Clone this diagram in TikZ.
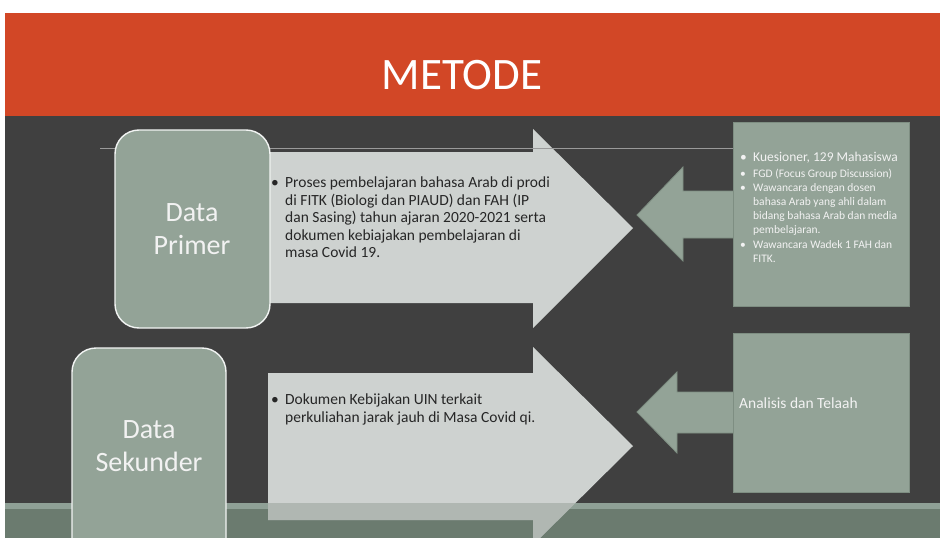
\documentclass[tikz,border=0pt]{standalone}
\usepackage{fontspec}
\setmainfont{Carlito}
\definecolor{slidered}{HTML}{D24726}
\definecolor{slidebg}{HTML}{404040}
\definecolor{sage}{HTML}{93A397}
\definecolor{sageedge}{HTML}{7E8E82}
\definecolor{arrowgray}{HTML}{CED2D0}
\definecolor{bandgreen}{HTML}{6B7B6F}
\definecolor{bandlight}{HTML}{8FA096}
\definecolor{txtdark}{HTML}{262626}
\definecolor{txtlight}{HTML}{F2F2F2}
\definecolor{rulegray}{HTML}{9A9A9A}
\begin{document}
\begin{tikzpicture}[x=1pt,y=-1pt,
  databox/.style={fill=sage,draw=white!88!sage,line width=1.4pt,rounded corners=24pt},
  sidebox/.style={fill=sage,draw=sageedge,line width=0.8pt},
  bigarrow/.style={fill=arrowgray,draw=none},
  backarrow/.style={fill=sage,draw=sageedge,line width=0.8pt},
  datatext/.style={text=txtlight,align=center,font=\fontsize{28}{33}\selectfont,inner sep=0pt},
  arrowtext/.style={text=txtdark,align=left,font=\fontsize{15.5}{17.5}\selectfont,inner sep=0pt},
  sidetext/.style={text=txtlight,align=left,inner sep=0pt}]
\useasboundingbox (0,0) rectangle (940,538);
\fill[white] (0,0) rectangle (940,538);
\clip (0,0) rectangle (940,538);
% slide background
\fill[slidebg] (5,13) rectangle (940,538);
\fill[slidered] (5,13) rectangle (940,116);
\fill[bandlight] (5,503) rectangle (940,509);
\fill[bandgreen] (5,509) rectangle (940,538);
\node[text=white,font=\fontsize{45}{54}\selectfont,inner sep=0pt] (title) at (462,75) {METODE};
% back arrows (right boxes pointing left)
\draw[backarrow] (740,191) -- (683,191) -- (683,167) -- (637,215) -- (683,261) -- (683,238) -- (740,238);
\draw[backarrow] (740,392) -- (677,392) -- (677,372) -- (637,412) -- (677,453) -- (677,433) -- (740,433);
% big arrows
\fill[bigarrow] (260,152) -- (533,152) -- (533,129) -- (633,228) -- (533,328) -- (533,303) -- (260,303) -- cycle;
\fill[bigarrow] (268,373) -- (533,373) -- (533,347) -- (633,446) -- (533,545) -- (533,520) -- (268,520) -- cycle;
\begin{scope}
  \clip (268,373) -- (533,373) -- (533,347) -- (633,446) -- (533,545) -- (533,520) -- (268,520) -- cycle;
  \fill[bandgreen,fill opacity=0.3] (5,503) rectangle (940,538);
\end{scope}
% rule line
\draw[rulegray,line width=0.8pt] (100,148) -- (733,148);
% side boxes
\draw[sidebox] (733,122) rectangle (909,306);
\draw[sidebox] (733,333) rectangle (909,492);
% data boxes
\draw[databox] (115,130) rectangle (270,328);
\draw[databox] (72,348) rectangle (226,580);
\node[datatext] (primer) at (192,229) {Data\\Primer};
\node[datatext] (sekunder) at (149,446) {Data\\Sekunder};
% arrow texts
\node[arrowtext,anchor=north west] (ptext) at (271,177) {%
\makebox[14pt][l]{•}Proses pembelajaran bahasa Arab di prodi\\
\hspace*{14pt}di FITK (Biologi dan PIAUD) dan FAH (IP\\
\hspace*{14pt}dan Sasing) tahun ajaran 2020-2021 serta\\
\hspace*{14pt}dokumen kebiajakan pembelajaran di\\
\hspace*{14pt}masa Covid 19.};
\node[arrowtext,anchor=north west] (stext) at (271,394) {%
\makebox[14pt][l]{•}Dokumen Kebijakan UIN terkait\\
\hspace*{14pt}perkuliahan jarak jauh di Masa Covid qi.};
% side texts
\node[sidetext,anchor=north west,font=\fontsize{13.5}{14}\selectfont] (ktext) at (740,152) {%
\makebox[13pt][l]{•}Kuesioner, 129 Mahasiswa};
\node[sidetext,anchor=base west,font=\fontsize{11.5}{14}\selectfont] (ftext) at (740,177) {%
\makebox[13pt][l]{•}FGD (Focus Group Discussion)};
\node[sidetext,anchor=base west,font=\fontsize{11.5}{14}\selectfont] (wtext) at (740,191) {%
\makebox[13pt][l]{•}Wawancara dengan dosen};
\node[sidetext,anchor=base west,font=\fontsize{11.5}{14}\selectfont] (wtext2) at (753,205) {bahasa Arab yang ahli dalam};
\node[sidetext,anchor=base west,font=\fontsize{11.5}{14}\selectfont] (wtext3) at (753,219) {bidang bahasa Arab dan media};
\node[sidetext,anchor=base west,font=\fontsize{11.5}{14}\selectfont] (wtext4) at (753,233) {pembelajaran.};
\node[sidetext,anchor=base west,font=\fontsize{11.5}{14}\selectfont] (dtext) at (740,248) {%
\makebox[13pt][l]{•}Wawancara Wadek 1 FAH dan};
\node[sidetext,anchor=base west,font=\fontsize{11.5}{14}\selectfont] (dtext2) at (753,262) {FITK.};
\node[sidetext,anchor=west,font=\fontsize{15.5}{18}\selectfont] (atext) at (739,403) {Analisis dan Telaah};
\end{tikzpicture}
\end{document}
